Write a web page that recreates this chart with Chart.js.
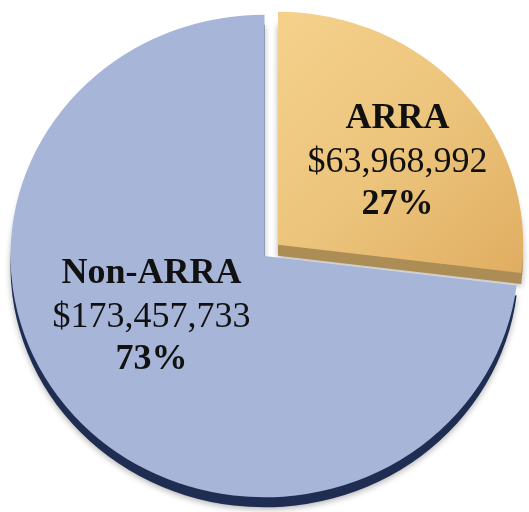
<!DOCTYPE html>
<html>
<head>
<meta charset="utf-8">
<script src="https://cdn.jsdelivr.net/npm/chart.js@4.4.1/dist/chart.umd.min.js"></script>
<style>
  html, body { margin: 0; padding: 0; background: #fff; }
  #wrap { width: 529px; height: 512px; }
</style>
</head>
<body>
<div id="wrap"><canvas id="fundChart" width="529" height="512"></canvas></div>
<script>
const categories = ["ARRA", "Non-ARRA"];
const amounts = [63968992, 173457733];
const amountLabels = ["$63,968,992", "$173,457,733"];
const percentLabels = ["27%", "73%"];

const sideColors = ["#ad8d56", "#1f2d52"];
const sideDepth = [11, 10];
const tilt = 0.95;

// 3d look: squash the pie a bit and draw a darker copy under each slice
const depthPlugin = {
  id: "depth",
  afterDatasetUpdate(chart) {
    // the pulled-out slice is drawn a little smaller in the original
    const arc = chart.getDatasetMeta(0).data[0];
    if (arc) arc.outerRadius = arc.outerRadius * 0.965;
  },
  beforeDatasetsDraw(chart) {
    const ctx = chart.ctx;
    const a = chart.chartArea;
    const cx = (a.left + a.right) / 2, cy = (a.top + a.bottom) / 2;
    ctx.save();
    ctx.translate(cx, cy);
    ctx.scale(1, tilt);
    ctx.translate(-cx, -cy);
    ctx.save();
    chart.getDatasetMeta(0).data.forEach((arc, i) => {
      const mid = (arc.startAngle + arc.endAngle) / 2;
      const off = (arc.options.offset || 0) / 4;
      const ox = arc.x + Math.cos(mid) * off;
      const oy = arc.y + Math.sin(mid) * off + sideDepth[i] / tilt;
      ctx.beginPath();
      ctx.moveTo(ox, oy);
      ctx.arc(ox, oy, arc.outerRadius, arc.startAngle, arc.endAngle);
      ctx.closePath();
      ctx.fillStyle = sideColors[i];
      ctx.shadowColor = "rgba(0,0,0,0.3)";
      ctx.shadowBlur = 6;
      ctx.shadowOffsetY = 2;
      ctx.fill();
    });
    ctx.restore();
  },
  afterDatasetsDraw(chart) {
    chart.ctx.restore();
  }
};

const labelPlugin = {
  id: "sliceLabels",
  afterDraw(chart, args, opts) {
    const ctx = chart.ctx;
    const a = chart.chartArea;
    const cx = (a.left + a.right) / 2, cy = (a.top + a.bottom) / 2;
    ctx.save();
    ctx.fillStyle = "#111";
    ctx.textAlign = "center";
    ctx.textBaseline = "alphabetic";
    categories.forEach((name, i) => {
      const s = opts.spots[i];
      const x = cx + s.dx;
      ctx.font = 'bold 36px "Liberation Serif", "Times New Roman", serif';
      ctx.fillText(name, x, cy + s.dy);
      ctx.font = '36px "Liberation Serif", "Times New Roman", serif';
      ctx.fillText(amountLabels[i], x, cy + s.dy + opts.lineGap);
      ctx.font = 'bold 36px "Liberation Serif", "Times New Roman", serif';
      ctx.fillText(percentLabels[i], x, cy + s.dy + opts.lineGap * 2 - 2);
    });
    ctx.restore();
  }
};

const ctx = document.getElementById("fundChart").getContext("2d");
const chart = new Chart(ctx, {
  type: "pie",
  data: {
    labels: categories,
    datasets: [{
      data: amounts,
      backgroundColor(c) {
        if (c.dataIndex === 1) return "#a6b5d8";
        const area = c.chart.chartArea;
        if (!area) return "#ecc27e";
        const g = c.chart.ctx.createLinearGradient(area.left + 280, area.top + 20, area.left + 520, area.top + 270);
        g.addColorStop(0, "#f4d08a");
        g.addColorStop(0.5, "#ecc47c");
        g.addColorStop(1, "#e0ae62");
        return g;
      },
      borderWidth: 0,
      offset: [72, 0],
      clip: false
    }]
  },
  options: {
    responsive: false,
    animation: false,
    radius: 254,
    layout: { padding: 0 },
    plugins: {
      legend: { display: false },
      tooltip: { enabled: false },
      sliceLabels: {
        spots: [{ dx: 133, dy: -128 }, { dx: -113, dy: 27 }],
        lineGap: 44
      }
    }
  },
  plugins: [depthPlugin, labelPlugin]
});
</script>
</body>
</html>
